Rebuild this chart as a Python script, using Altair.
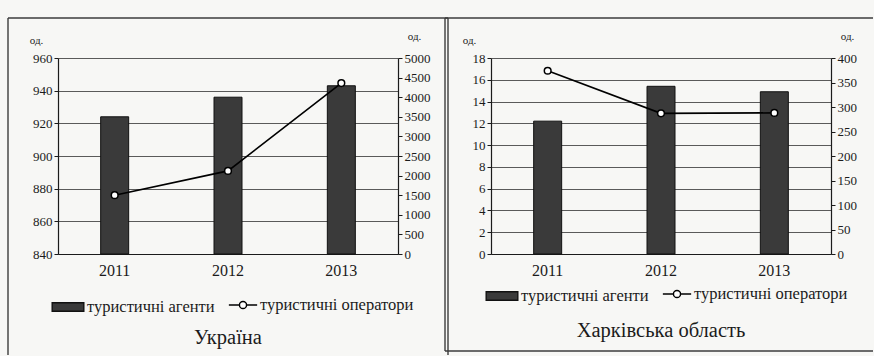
import altair as alt
import pandas as pd

# Categories and series
years = ["2011", "2012", "2013"]
series_names = ["туристичні агенти", "туристичні оператори"]

# Україна
ua_agents = [924, 936, 943]
ua_operators = [1500, 2120, 4360]

# Харківська область
kh_agents = [12.2, 15.4, 14.9]
kh_operators = [374, 287, 288]

FONT = "Liberation Serif"
INK = "#1b1b1b"
BAR = "#3a3a3a"
GRID = "#5a5a5a"
FRAME = "#3c3c3c"

# legend glyphs drawn in the -1..1 symbol box
BAR_SYMBOL = "M-1,-0.27H1V0.27H-1Z"
LINE_SYMBOL = ("M-1,0H-0.25M0.25,0H1M-0.25,0"
               "A0.25,0.25 0 1,1 0.25,0A0.25,0.25 0 1,1 -0.25,0")


def legend(symbol, size, x, y):
    return alt.Legend(
        title=None, orient="none", legendX=x, legendY=y,
        symbolType=symbol, symbolSize=size, symbolStrokeWidth=1.4,
        symbolFillColor="white" if symbol == LINE_SYMBOL else BAR,
        labelFont=FONT, labelFontSize=16.5, labelColor=INK, labelOffset=2,
    )


def frame(edges):
    """Thin box lines around a panel; edges are (x, y, x2, y2) in panel pixels."""
    one = alt.Chart(pd.DataFrame({"k": [0]}))
    return [
        one.mark_rule(color=FRAME, strokeWidth=1.4).encode(
            x=alt.value(x0), y=alt.value(y0), x2=alt.value(x1), y2=alt.value(y1)
        )
        for x0, y0, x1, y1 in edges
    ]


def panel(agents, operators, left_max, left_min, left_step,
          right_max, right_step, title, title_offset, leg_y, leg2_x, leg1_x, edges):
    df = pd.DataFrame({
        "year": years,
        "agents": agents,
        "operators": operators,
        "s_a": series_names[0],
        "s_o": series_names[1],
    })
    base = alt.Chart(df)
    x = alt.X(
        "year:N",
        scale=alt.Scale(paddingInner=0, paddingOuter=0),
        axis=alt.Axis(title=None, labelAngle=0, labelFont=FONT, labelFontSize=16,
                      labelColor=INK, labelPadding=8, ticks=False,
                      domainColor=INK, domainWidth=1.2),
    )
    bars = base.mark_bar(size=28, stroke="#111", strokeWidth=1).encode(
        x=x,
        y=alt.Y(
            "agents:Q",
            scale=alt.Scale(domain=[left_min, left_max], nice=False, zero=False, clamp=True),
            axis=alt.Axis(
                title="од.", titleAngle=0, titleX=-22, titleY=-13,
                titleAlign="center", titleBaseline="bottom",
                titleFont=FONT, titleFontSize=11, titleFontWeight="normal", titleColor=INK,
                values=list(range(left_min, left_max + 1, left_step)), format="d",
                labelFont=FONT, labelFontSize=13, labelColor=INK,
                grid=True, gridColor=GRID, gridWidth=1,
                tickSize=4, tickColor=INK, domainColor=INK, domainWidth=1.2,
            ),
        ),
        fill=alt.Fill("s_a:N", scale=alt.Scale(domain=[series_names[0]], range=[BAR]),
                      legend=legend(BAR_SYMBOL, 1000, leg1_x, leg_y)),
    )
    ops = base.mark_line(
        strokeWidth=1.6,
        point=alt.OverlayMarkDef(filled=True, fill="white", stroke="black",
                                 strokeWidth=1.5, size=45),
    ).encode(
        x=x,
        y=alt.Y(
            "operators:Q",
            scale=alt.Scale(domain=[0, right_max], nice=False),
            axis=alt.Axis(
                orient="right", title="од.", titleAngle=0, titleX=16, titleY=-17,
                titleAlign="center", titleBaseline="bottom",
                titleFont=FONT, titleFontSize=11, titleFontWeight="normal", titleColor=INK,
                values=list(range(0, right_max + 1, right_step)), format="d",
                labelFont=FONT, labelFontSize=13, labelColor=INK,
                grid=False, tickSize=4, tickColor=INK,
                domainColor=INK, domainWidth=1.2,
            ),
        ),
        stroke=alt.Stroke("s_o:N", scale=alt.Scale(domain=[series_names[1]], range=["black"]),
                          legend=legend(LINE_SYMBOL, 800, leg2_x, leg_y)),
    )
    data_layers = alt.layer(bars, ops).resolve_scale(y="independent")
    return alt.layer(*frame(edges), data_layers).properties(
        width=340, height=196,
        title=alt.TitleParams(title, orient="bottom", font=FONT, fontSize=20.5,
                              fontWeight="normal", color=INK, offset=title_offset),
    )


left = panel(ua_agents, ua_operators, 960, 840, 20, 5000, 500,
             "Україна", -28, 232, 170, -7,
             [(-50, -40, -50, 297), (-50, -40, 390, -40), (390, -40, 390, 297)])
right = panel(kh_agents, kh_operators, 18, 0, 2, 400, 50,
              "Харківська область", -31, 221, 171, -6,
              [(-46, -40, -46, 293), (-46, -40, 382, -40), (-46, 293, 382, 293)])

chart = alt.hconcat(left, right, spacing=-5).resolve_scale(
    fill="independent", stroke="independent"
).resolve_legend(
    fill="independent", stroke="independent"
).properties(
    background="#f7f7f5",
    padding={"left": 7, "top": 17, "right": 0, "bottom": 0},
).configure(font=FONT).configure_view(stroke=None).configure_legend(
    labelFont=FONT, labelFontSize=16.5, labelColor=INK
)

chart.save("out.html", embed_options={"renderer": "svg", "actions": False})
